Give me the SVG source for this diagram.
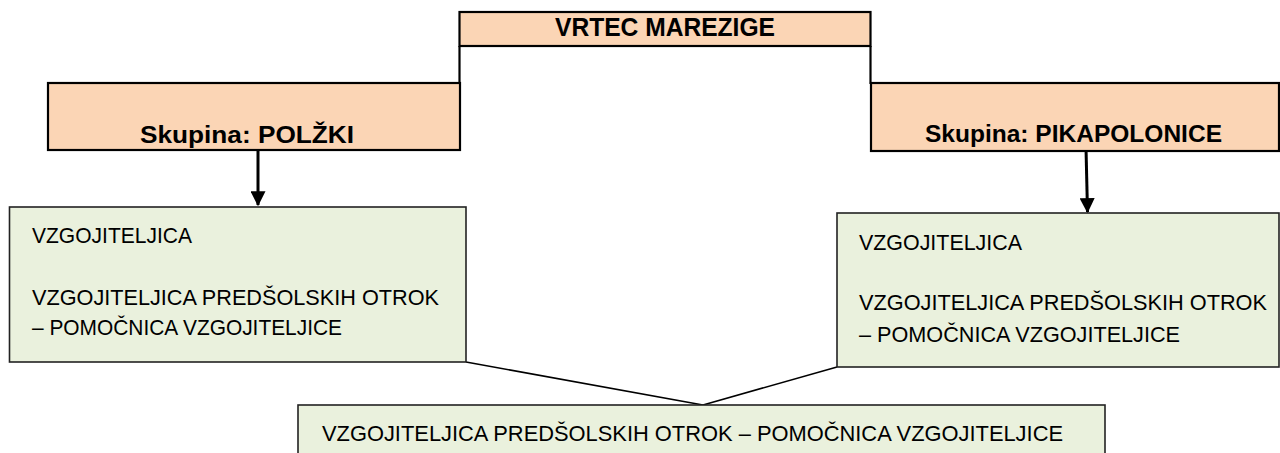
<svg xmlns="http://www.w3.org/2000/svg" width="1280" height="453" viewBox="0 0 1280 453">
<style>
.peach{fill:#FBD5B5;stroke:#000;stroke-width:2.2}
.green{fill:#EAF1DD;stroke:#222;stroke-width:1.6}
.bold{font-family:"Liberation Sans",Arial,sans-serif;font-weight:bold;fill:#000}
.reg{font-family:"Liberation Sans",Arial,sans-serif;font-size:22px;fill:#000}
.ln{stroke:#000;stroke-width:2.2;fill:none}
.thin{stroke:#000;stroke-width:1.6;fill:none}
.arr{stroke:#000;stroke-width:3;fill:none}
</style>
<defs>
<marker id="ah" markerWidth="5" markerHeight="5" refX="4.6" refY="2.5" orient="auto" markerUnits="strokeWidth">
<path d="M0,0 L5,2.5 L0,5 Z" fill="#000"/>
</marker>
</defs>
<rect width="1280" height="453" fill="#fff"/>
<g id="connectors">
<line class="ln" x1="459.5" y1="46" x2="459.5" y2="84"/>
<line class="ln" x1="870.5" y1="46" x2="870.5" y2="84"/>
<line class="arr" x1="258" y1="148" x2="258" y2="205" marker-end="url(#ah)"/>
<line class="arr" x1="1086" y1="148" x2="1087.5" y2="212" marker-end="url(#ah)"/>
<line class="thin" x1="466" y1="362" x2="703" y2="405"/>
<line class="thin" x1="837" y1="367" x2="703" y2="405"/>
</g>
<g id="vrtec">
<rect class="peach" x="459.5" y="12" width="411" height="34"/>
<text class="bold" x="555" y="36" font-size="26" textLength="220" lengthAdjust="spacingAndGlyphs">VRTEC MAREZIGE</text>
</g>
<g id="polzki">
<rect class="peach" x="48" y="83" width="412" height="67"/>
<text class="bold" x="140" y="143" font-size="24" textLength="214" lengthAdjust="spacingAndGlyphs">Skupina: POLŽKI</text>
</g>
<g id="pikapolonice">
<rect class="peach" x="871" y="83" width="408" height="68"/>
<text class="bold" x="925" y="142" font-size="24" textLength="297" lengthAdjust="spacingAndGlyphs">Skupina: PIKAPOLONICE</text>
</g>
<g id="left-staff">
<rect class="green" x="9.5" y="207" width="456.5" height="155"/>
<text class="reg" x="32" y="243" textLength="160" lengthAdjust="spacingAndGlyphs">VZGOJITELJICA</text>
<text class="reg" x="32" y="305" textLength="407" lengthAdjust="spacingAndGlyphs">VZGOJITELJICA PREDŠOLSKIH OTROK</text>
<text class="reg" x="32" y="335" textLength="310" lengthAdjust="spacingAndGlyphs">– POMOČNICA VZGOJITELJICE</text>
</g>
<g id="right-staff">
<rect class="green" x="837" y="213" width="442" height="154"/>
<text class="reg" x="859" y="250" textLength="163" lengthAdjust="spacingAndGlyphs">VZGOJITELJICA</text>
<text class="reg" x="859" y="310" textLength="408" lengthAdjust="spacingAndGlyphs">VZGOJITELJICA PREDŠOLSKIH OTROK</text>
<text class="reg" x="859" y="342" textLength="321" lengthAdjust="spacingAndGlyphs">– POMOČNICA VZGOJITELJICE</text>
</g>
<g id="bottom-staff">
<rect class="green" x="298" y="405" width="807" height="60"/>
<text class="reg" x="322" y="441" font-size="23" textLength="741" lengthAdjust="spacingAndGlyphs">VZGOJITELJICA PREDŠOLSKIH OTROK – POMOČNICA VZGOJITELJICE</text>
</g>
</svg>
